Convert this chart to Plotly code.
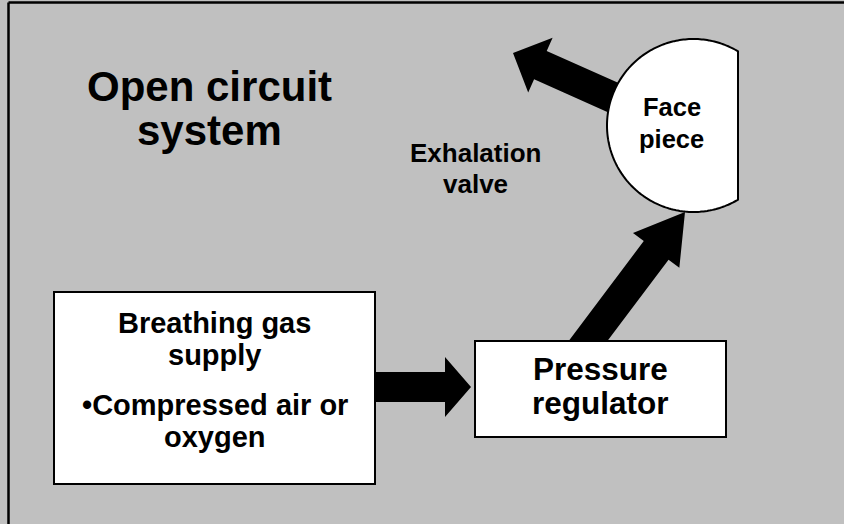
import numpy as np
import plotly.graph_objects as go

# ---- text content ----
title_lines = ["Open circuit", "system"]
valve_lines = ["Exhalation", "valve"]
face_lines = ["Face", "piece"]
supply_lines = ["Breathing gas", "supply", "\u2022Compressed air or", "oxygen"]
regulator_lines = ["Pressure", "regulator"]

# ---- layout geometry (pixels, y downward) ----
W, H = 844, 524
FRAME = dict(x0=8.5, y0=2.5)
SUPPLY_BOX = (54, 292, 375, 484)
REG_BOX = (475, 341, 726, 437)
FACE_C = (693.5, 125.5)
FACE_R = 86.5
FACE_CUT_X = 738

FONT = "Liberation Sans, Arial, Helvetica, sans-serif"


def arrow_path(tail, tip, shaft_w, head_w, head_len):
    t = np.array(tail, float)
    p = np.array(tip, float)
    d = p - t
    L = np.hypot(*d)
    u = d / L
    n = np.array([-u[1], u[0]])
    b = p - u * head_len
    pts = [t + n * shaft_w / 2, b + n * shaft_w / 2, b + n * head_w / 2, p,
           b - n * head_w / 2, b - n * shaft_w / 2, t - n * shaft_w / 2]
    return "M " + " L ".join(f"{x:.2f},{y:.2f}" for x, y in pts) + " Z"


def face_path():
    cx, cy = FACE_C
    a = np.arccos((FACE_CUT_X - cx) / FACE_R)
    ang = np.linspace(a, 2 * np.pi - a, 200)
    xs = cx + FACE_R * np.cos(ang)
    ys = cy - FACE_R * np.sin(ang)
    return "M " + " L ".join(f"{x:.2f},{y:.2f}" for x, y in zip(xs, ys)) + " Z"


shapes = []
# frame: gray fill, plus top and left black border lines
shapes.append(dict(type="rect", x0=FRAME["x0"], y0=FRAME["y0"], x1=W + 60, y1=H + 60,
                   fillcolor="#C0C0C0", line=dict(width=0), layer="below"))
shapes.append(dict(type="line", x0=FRAME["x0"], y0=FRAME["y0"], x1=W + 60, y1=FRAME["y0"],
                   line=dict(color="black", width=2.5)))
shapes.append(dict(type="line", x0=FRAME["x0"], y0=FRAME["y0"], x1=FRAME["x0"], y1=H + 60,
                   line=dict(color="black", width=2.5)))
# arrows
shapes.append(dict(type="path", path=arrow_path((365, 387), (471, 387), 30, 60, 26),
                   fillcolor="black", line=dict(width=0)))
shapes.append(dict(type="path", path=arrow_path((579, 353), (685, 212), 31, 58, 48),
                   fillcolor="black", line=dict(width=0)))
shapes.append(dict(type="path", path=arrow_path((641, 110), (513, 53), 31, 60, 30),
                   fillcolor="black", line=dict(width=0)))
# face piece
shapes.append(dict(type="path", path=face_path(), fillcolor="white",
                   line=dict(color="black", width=2)))
# boxes
for bx in (SUPPLY_BOX, REG_BOX):
    shapes.append(dict(type="rect", x0=bx[0], y0=bx[1], x1=bx[2], y1=bx[3],
                       fillcolor="white", line=dict(color="black", width=2)))

annotations = []


def add_lines(lines, cx, baselines, size):
    for txt, base in zip(lines, baselines):
        annotations.append(dict(x=cx, y=base - 0.35 * size, xref="x", yref="y", text=txt,
                                showarrow=False, xanchor="center", yanchor="middle",
                                font=dict(family=FONT, size=size, color="black", weight="bold")))


add_lines(title_lines, 209, [100.7, 145], 42)
add_lines(valve_lines, 475.5, [161.7, 193.3], 26)
add_lines(face_lines, 671.5, [116, 147.7], 25.5)
add_lines(supply_lines, 214.5, [333.3, 365, 415, 447.3], 29)
add_lines(regulator_lines, 600.5, [380, 414], 31.5)

fig = go.Figure()
fig.update_layout(
    width=W, height=H, margin=dict(l=0, r=0, t=0, b=0),
    paper_bgcolor="white", plot_bgcolor="#C0C0C0",
    xaxis=dict(range=[0, W], visible=False, fixedrange=True),
    yaxis=dict(range=[H, 0], visible=False, fixedrange=True),
    shapes=shapes, annotations=annotations, showlegend=False,
)
fig.write_html("out.html", config={"displayModeBar": False},
               post_script=("document.body.style.margin='0';"
                            "document.body.style.overflow='hidden';"
                            "document.documentElement.style.overflow='hidden';"))
